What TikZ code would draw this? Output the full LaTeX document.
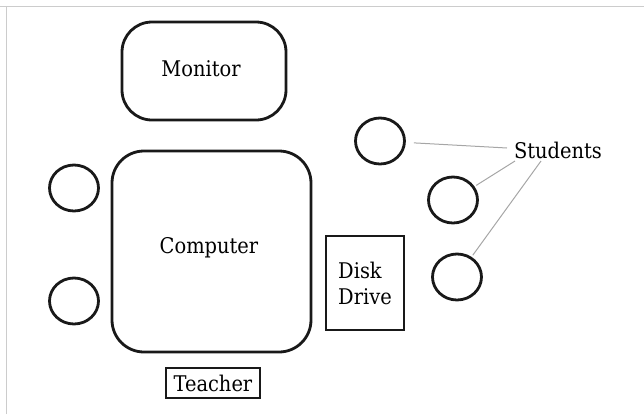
\documentclass[tikz,border=0pt]{standalone}
\usepackage{fontspec}
\setmainfont{DejaVu Serif Condensed}
\usetikzlibrary{shapes.geometric}
\begin{document}
\begin{tikzpicture}[x=0.5pt,y=-0.5pt,
  obj/.style={draw=black!90,line width=1.4pt},
  seat/.style={obj,ellipse,minimum width=24.5pt,minimum height=23pt,inner sep=0pt},
  lbl/.style={font=\fontsize{10.8}{13}\selectfont,text=black},
  ptr/.style={draw=black!35,line width=0.5pt}]
\useasboundingbox (0,0) rectangle (644,414);
\draw[draw=black!20,line width=0.6pt] (0,6.5) -- (644,6.5);
\draw[draw=black!20,line width=0.6pt] (6.5,414) -- (6.5,6.5) ;
% monitor and computer
\draw[obj,rounded corners=15pt] (122,22) rectangle (286,120);
\node[lbl] (mon) at (201,69) {Monitor};
\draw[obj,rounded corners=16pt] (112,151) rectangle (311,352);
\node[lbl] (comp) at (209,248) {Computer};
% disk drive
\node[obj,rectangle,minimum width=39pt,minimum height=47pt,inner sep=0pt,align=left,lbl] (disk) at (365,283) {Disk\\Drive};
% teacher
\node[obj,rectangle,line width=1.3pt,minimum width=47pt,minimum height=15pt,inner sep=1pt,lbl] (teach) at (213,383) {Teacher};
% seats
\node[seat] (l1) at (74,188) {};
\node[seat] (l2) at (74,301) {};
\node[seat] (s1) at (380,141) {};
\node[seat] (s2) at (453,200) {};
\node[seat] (s3) at (457,277) {};
% students label
\node[lbl] (stud) at (558,150) {Students};
\coordinate (a1) at (507,148);
\coordinate (a2) at (515,161);
\coordinate (a3) at (541,161);
\draw[ptr,shorten >=4pt] (a1) -- (s1);
\draw[ptr,shorten >=1pt] (a2) -- (s2);
\draw[ptr,shorten >=1pt] (a3) -- (s3);
\end{tikzpicture}
\end{document}
